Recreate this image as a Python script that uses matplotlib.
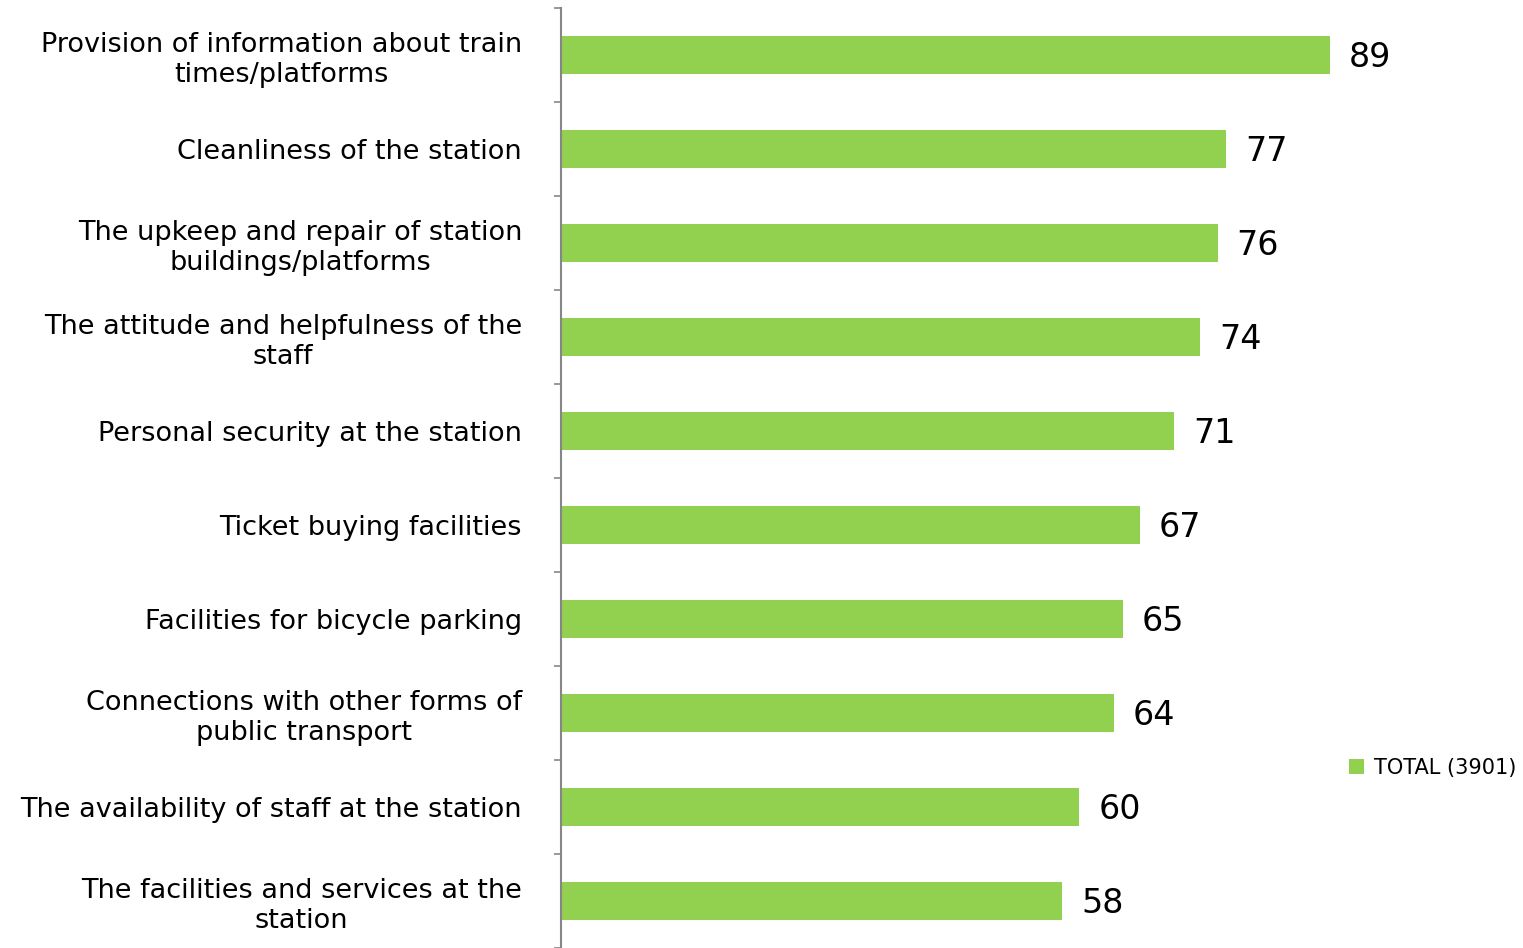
import matplotlib
matplotlib.use("Agg")
import matplotlib.pyplot as plt
import numpy as np

plt.rcParams['font.family'] = ['DejaVu Sans']

categories = [
    "Provision of information about train\ntimes/platforms",
    "Cleanliness of the station",
    "The upkeep and repair of station\nbuildings/platforms",
    "The attitude and helpfulness of the\nstaff",
    "Personal security at the station",
    "Ticket buying facilities",
    "Facilities for bicycle parking",
    "Connections with other forms of\npublic transport",
    "The availability of staff at the station",
    "The facilities and services at the\nstation",
]
values = [89, 77, 76, 74, 71, 67, 65, 64, 60, 58]
series_name = "TOTAL (3901)"

bar_color = "#92D050"
axis_color = "#868686"

W, H = 1523, 948
fig = plt.figure(figsize=(W / 100, H / 100), dpi=100)
ax = fig.add_axes([561 / W, 0 / H, (1425 - 561) / W, (949 - 9) / H])

n = len(categories)
pos = np.arange(n)
bars = ax.barh(pos, values, height=0.4, color=bar_color, label=series_name, zorder=2)

ax.set_xlim(0, 100)
ax.set_ylim(n - 0.5, -0.5)

for p, v in zip(pos, values):
    ax.text(v + 2.2, p + 0.03, str(v), va="center", ha="left", fontsize=24, color="black")

ax.set_yticks(pos)
ax.set_yticklabels(categories, fontsize=19.5)
for lab in ax.get_yticklabels():
    lab.set_multialignment("center")
    lab.set_linespacing(1.2)
ax.tick_params(axis="y", which="major", length=0, pad=28)
ax.set_yticks(np.arange(-0.5, n, 1), minor=True)
ax.tick_params(axis="y", which="minor", length=5, width=1.2, color=axis_color)

ax.set_xticks([])
for side in ("top", "right", "bottom"):
    ax.spines[side].set_visible(False)
ax.spines["left"].set_color(axis_color)
ax.spines["left"].set_linewidth(1.5)

leg = fig.legend(handles=[bars], labels=[series_name], loc="center left",
                 bbox_to_anchor=(1330 / W, 1 - 768 / H), frameon=False,
                 fontsize=15, handlelength=0.75, handleheight=0.75, handletextpad=0.45)

fig.savefig("out.png", dpi=100)
